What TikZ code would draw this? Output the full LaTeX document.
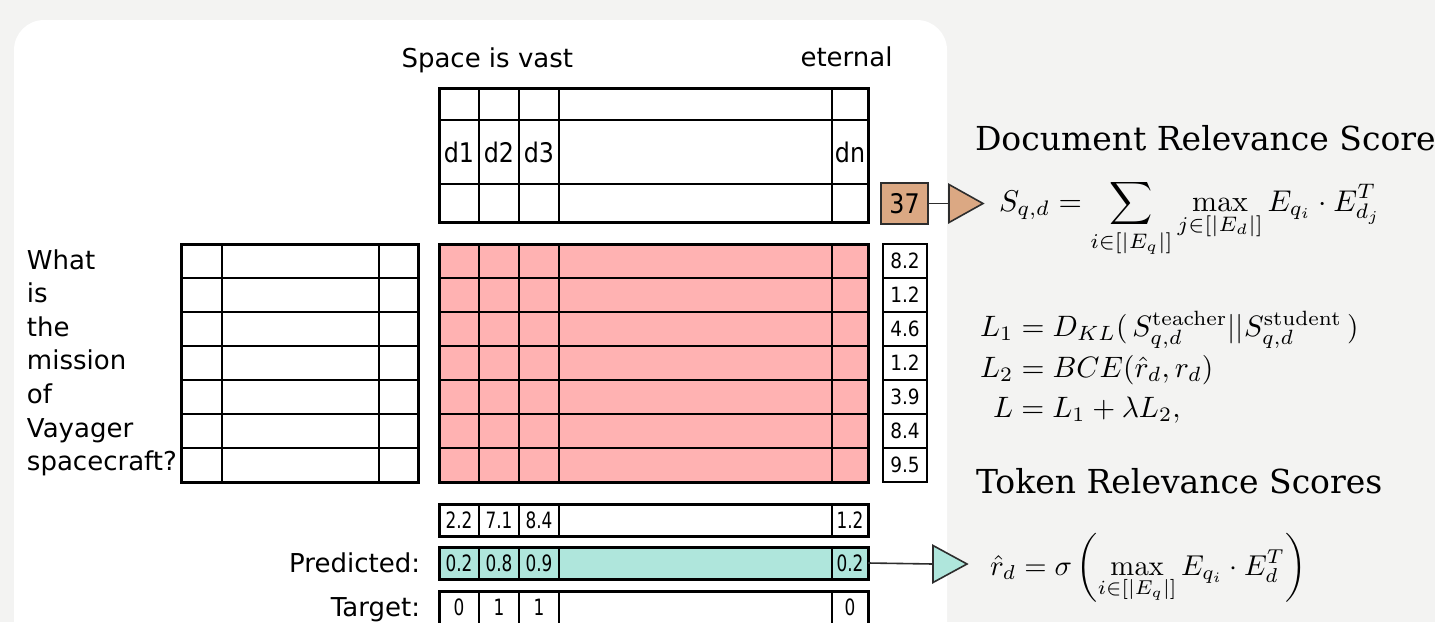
\documentclass[tikz,border=0pt]{standalone}
\usepackage{amsmath}
\usepackage{graphicx}
\usepackage[no-math]{fontspec}
\setmainfont{DejaVu Sans}
\newfontfamily\headfont{DejaVu Serif}

\definecolor{pagebg}{RGB}{243,243,242}
\definecolor{cellpink}{RGB}{255,178,178}
\definecolor{cellteal}{RGB}{175,230,220}
\definecolor{celltan}{RGB}{219,168,131}
\definecolor{edgegray}{RGB}{45,45,45}

\tikzset{
  gridout/.style={line width=3pt, line join=miter},
  gridin/.style={line width=2.4pt},
  gridlight/.style={line width=1.5pt},
  wordtext/.style={font=\fontsize{26}{30}\selectfont},
  celltext/.style={font=\fontsize{27}{30}\selectfont},
  numtext/.style={font=\fontsize{21}{24}\selectfont},
  squeezed/.style={font=\fontsize{22.5}{26}\selectfont},
  scorebox/.style={draw, line width=2.8pt, minimum width=44pt, minimum height=34pt, numtext},
  rowbox/.style={draw, gridout, minimum width=429pt, minimum height=32pt},
  totalbox/.style={draw=edgegray, line width=1.5pt, fill=celltan, minimum width=47pt, minimum height=41pt, celltext},
  conn/.style={draw=edgegray, line width=1.6pt},
  headtext/.style={font=\headfont\fontsize{33}{38}\selectfont},
  mathtext/.style={font=\normalsize},
}

\newcommand{\sq}[1]{\scalebox{0.75}[1]{#1}}
\newcommand{\nq}[1]{\scalebox{0.88}[1]{#1}}
\newcommand{\bigmath}[1]{\scalebox{3}{#1}}

\begin{document}
\begin{tikzpicture}[x=1pt,y=-1pt, every node/.style={inner sep=0pt, outer sep=0pt}]
\useasboundingbox (0,0) rectangle (1435,622);
\fill[pagebg] (0,0) rectangle (1435,622);
\fill[white, rounded corners=30pt] (14,20) rectangle (947,690);

% document tokens
\node[wordtext, anchor=base west] (docA) at (401.5,67) {Space is vast};
\node[wordtext, anchor=base west] (docB) at (800.5,66) {eternal};

% document embedding grid
\draw[gridin] foreach \x in {479,519,559,832} {(\x,88) -- (\x,222)};
\draw[gridin] (439,120) -- (868,120) (439,184) -- (868,184);
\draw[gridout] (439,88) rectangle (868,222);
\foreach \x/\t/\n in {459/d1/a, 499/d2/b, 539/d3/c, 850/dn/n}
  \node[celltext] (tok\n) at (\x,152) {\nq{\t}};

% similarity matrix
\fill[cellpink] (439,244) rectangle (868,482);
\draw[gridin] foreach \x in {479,519,559,832} {(\x,244) -- (\x,482)};
\draw[gridin] foreach \y in {278,312,346,380,414,448} {(439,\y) -- (868,\y)};
\draw[gridout] (439,244) rectangle (868,482);

% query embedding grid
\draw[gridlight] foreach \x in {222,379} {(\x,244) -- (\x,482)};
\draw[gridin] foreach \y in {278,312,346,380,414,448} {(181,\y) -- (418,\y)};
\draw[gridout] (181,244) rectangle (418,482);

% query tokens
\foreach \w [count=\i] in {What,is,the,mission,of,Vayager,spacecraft?}
  \node[wordtext, anchor=base west] (q\i) at (27,{269+33.6*(\i-1)}) {\w};

% row maxima
\foreach \v [count=\i] in {8.2,1.2,4.6,1.2,3.9,8.4,9.5}
  \node[scorebox] (sc\i) at (905,{261+34*(\i-1)}) {\nq{\v}};

% total score
\node[totalbox] (s37) at (904.5,203.5) {\nq{37}};
\coordinate (tipA) at (949,203.5);
\draw[conn] (s37.east) -- (tipA);
\draw[conn, fill=celltan, line join=miter] (tipA) -- ++(0,-19) -- ++(34,19) -- ++(-34,19) -- cycle;

% column maxima
\node[rowbox] (colmax) at (653.5,520) {};
\draw[gridin] foreach \x in {479,519,559,832} {(\x,504) -- (\x,536)};
\foreach \x/\t/\n in {459/2.2/a, 499/7.1/b, 539/8.4/c, 850/1.2/n}
  \node[squeezed] (cm\n) at (\x,520) {\sq{\t}};

% predicted
\node[rowbox, fill=cellteal] (pred) at (653.5,563) {};
\draw[gridin] foreach \x in {479,519,559,832} {(\x,547) -- (\x,579)};
\foreach \x/\t/\n in {459/0.2/a, 499/0.8/b, 539/0.9/c, 850/0.2/n}
  \node[squeezed] (pr\n) at (\x,563) {\sq{\t}};
\node[wordtext, anchor=base east] (predlab) at (420,572) {Predicted:};

% target
\node[rowbox, minimum height=40pt] (targ) at (653.5,611) {};
\draw[gridin] foreach \x in {479,519,559,832} {(\x,591) -- (\x,631)};
\foreach \x/\t/\n in {459/0/a, 499/1/b, 539/1/c, 850/0/n}
  \node[squeezed] (tg\n) at (\x,607) {\sq{\t}};
\node[wordtext, anchor=base east] (targlab) at (420,616) {Target:};

\coordinate (tipB) at (933,564);
\draw[conn] (pred.east) -- (tipB);
\draw[conn, fill=cellteal, line join=miter] (tipB) -- ++(0,-18.5) -- ++(34,18.5) -- ++(-34,18.5) -- cycle;

% right-hand formulas
\node[headtext, anchor=base west] (h1) at (975,150) {Document Relevance Scores};
\node[mathtext, anchor=base west] (f1) at (999,211)
  {\bigmath{$\displaystyle S_{q,d} = \sum_{i\in[|E_q|]}\max_{j\in[|E_d|]} E_{q_i}\cdot E_{d_j}^T$}};
\node[mathtext, anchor=base west] (f2) at (980,336)
  {\scalebox{2.95}{$L_1 = D_{KL}(\,S_{q,d}^{\mathrm{teacher}}||S_{q,d}^{\mathrm{student}}\,)$}};
\node[mathtext, anchor=base west] (f3) at (980,377)
  {\scalebox{2.95}{$L_2 = BCE(\hat{r}_d, r_d)$}};
\node[mathtext, anchor=base west] (f4) at (993,417)
  {\scalebox{2.95}{$L = L_1 + \lambda L_2,$}};
\node[headtext, anchor=base west] (h2) at (976,493) {Token Relevance Scores};
\node[mathtext, anchor=base west] (f5) at (990,575)
  {\scalebox{2.87}{$\displaystyle \hat{r}_d = \sigma\left(\max_{i\in[|E_q|]} E_{q_i}\cdot E_d^T\right)$}};
\end{tikzpicture}
\end{document}
